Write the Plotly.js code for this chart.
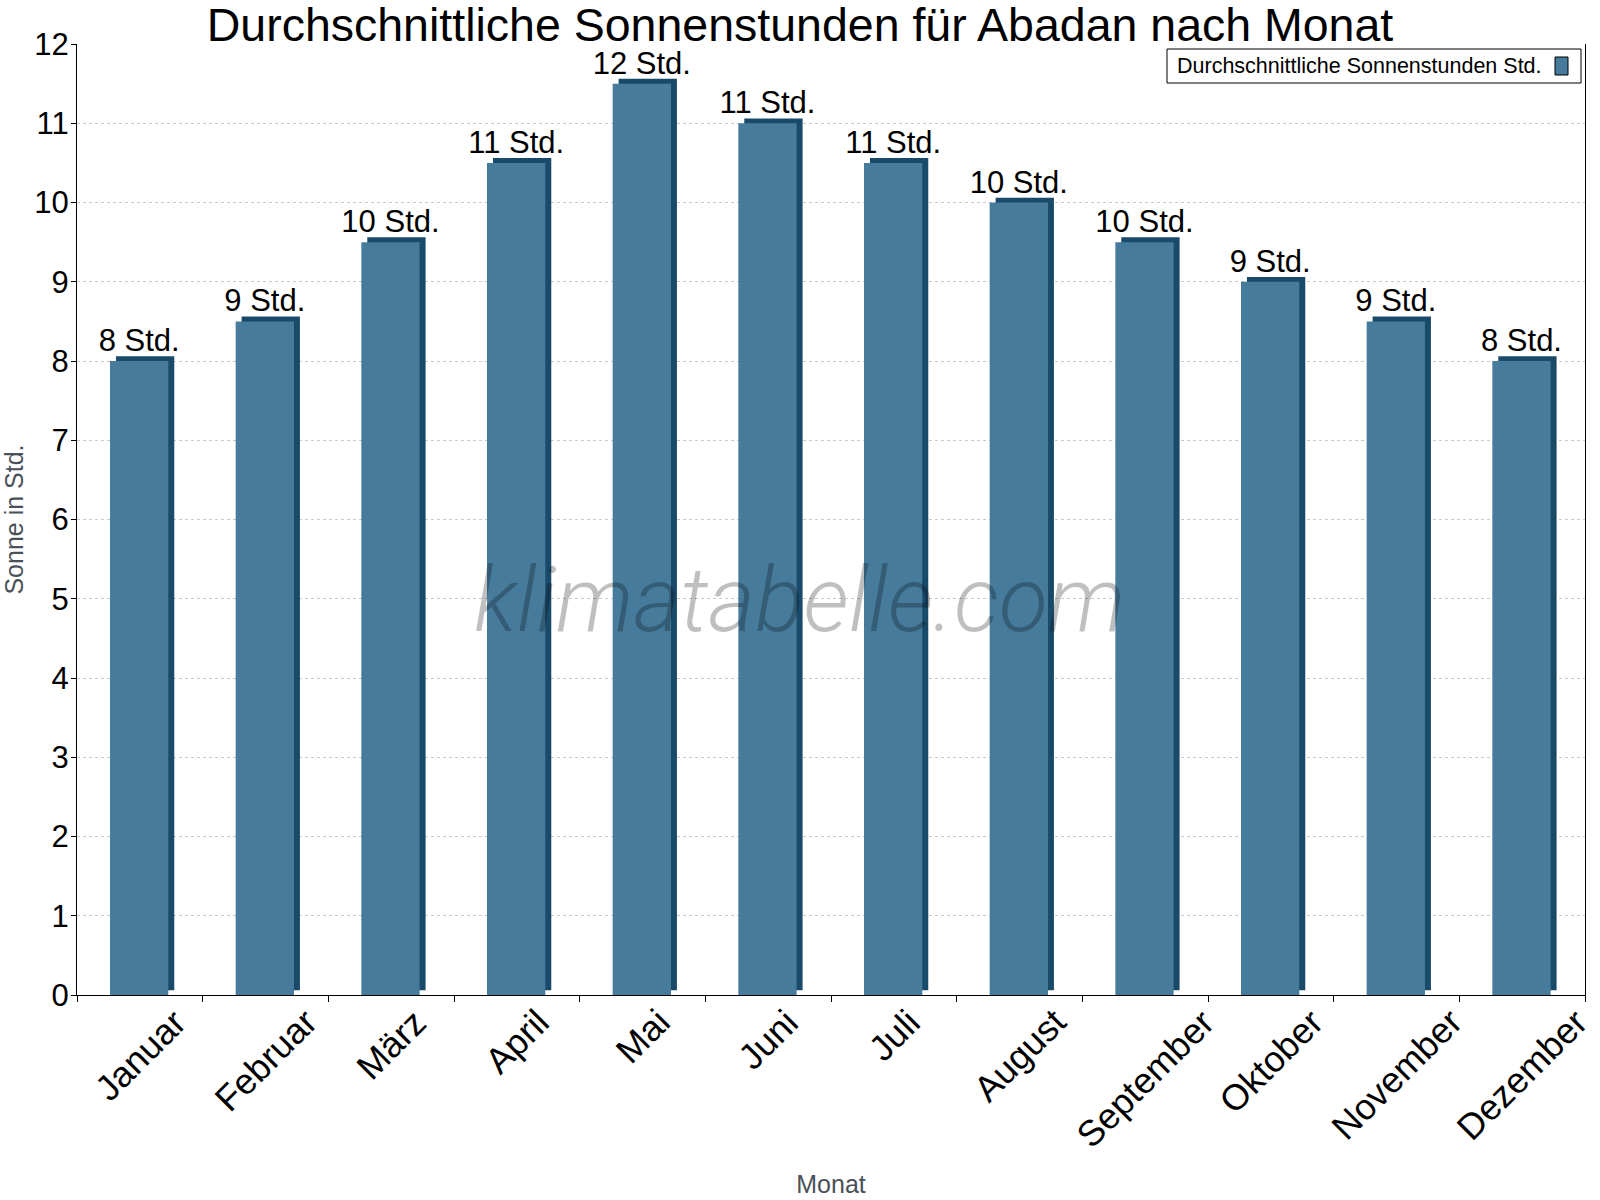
<!DOCTYPE html>
<html>
<head>
<meta charset="utf-8">
<script src="https://cdn.plot.ly/plotly-3.0.1.min.js"></script>
<style>html,body{margin:0;padding:0;background:#fff;}#chart{width:1600px;height:1200px;}</style>
</head>
<body>
<div id="chart"></div>
<script>
// ---- data ----
var months = ["Januar","Februar","März","April","Mai","Juni","Juli","August","September","Oktober","November","Dezember"];
var sunHours = [8, 8.5, 9.5, 10.5, 11.5, 11, 10.5, 10, 9.5, 9, 8.5, 8];
var barLabels = ["8 Std.","9 Std.","10 Std.","11 Std.","12 Std.","11 Std.","11 Std.","10 Std.","10 Std.","9 Std.","9 Std.","8 Std."];
var seriesName = "Durchschnittliche Sonnenstunden Std.";
var chartTitle = "Durchschnittliche Sonnenstunden für Abadan nach Monat";
var xTitle = "Monat";
var yTitle = "Sonne in Std.";
var watermark = "klimatabelle.com";

// ---- styles ----
var FONT = "Liberation Sans, Arial, sans-serif";
var FRONT = "#467b9c";
var DARK = "#1a4a6a";
var DEPTH = 0.06;

var shadow = {
  type: "bar", x: months, y: sunHours, base: DEPTH,
  offset: -0.19, width: 0.464,
  marker: {color: DARK, line: {width: 0}},
  hoverinfo: "skip", showlegend: false
};
var front = {
  type: "bar", x: months, y: sunHours, name: seriesName,
  offset: -0.2374, width: 0.464,
  marker: {color: FRONT, line: {width: 0}},
  text: barLabels, textposition: "outside", cliponaxis: false, constraintext: "none",
  textfont: {family: FONT, size: 31, color: "#000"},
  showlegend: false
};

var annotations = months.map(function(m){
  return {x: m, xref: "x", y: -0.004, yref: "paper", text: m, showarrow: false,
    textangle: -45, xanchor: "center", yanchor: "top",
    font: {family: FONT, size: 36, color: "#000"}};
});
annotations.push({x: 0.4788, xref: "paper", y: 0.415, yref: "paper", text: watermark, showarrow: false,
  font: {family: "Roboto, sans-serif", size: 90, color: "rgba(0,0,0,0.25)", style: "italic", weight: 300}});
// legend text
annotations.push({x: (1175-77)/1508, xref: "paper", y: (995-66)/951, yref: "paper", text: seriesName,
  showarrow: false, xanchor: "left", yanchor: "middle", font: {family: FONT, size: 21.5, color: "#000"}});

var shapes = [
  {type: "rect", xref: "paper", yref: "paper", x0: (1167-77)/1508, x1: (1581-77)/1508,
   y0: (995-83)/951, y1: (995-49)/951, line: {color: "#000", width: 1}, fillcolor: "#fff", layer: "above"},
  {type: "rect", xref: "paper", yref: "paper", x0: (1555-77)/1508, x1: (1568-77)/1508,
   y0: (995-75)/951, y1: (995-57)/951, line: {color: "#000", width: 1}, fillcolor: FRONT, layer: "above"}
];

var layout = {
  width: 1600, height: 1200,
  margin: {l: 77, r: 15, t: 44, b: 205},
  paper_bgcolor: "#fff", plot_bgcolor: "#fff",
  barmode: "overlay",
  showlegend: false,
  title: {text: chartTitle, x: 0.5, xanchor: "center", y: 0.9795, yanchor: "middle",
    font: {family: FONT, size: 46.5, color: "#000"}},
  xaxis: {
    type: "category", range: [-0.5, 11.5], showticklabels: false, tickson: "boundaries",
    ticks: "outside", ticklen: 6, tickcolor: "#000",
    showline: true, linecolor: "#000", linewidth: 1, showgrid: false, zeroline: false,
    title: {text: xTitle, standoff: 180, font: {family: FONT, size: 25, color: "#4a5058"}}
  },
  yaxis: {
    range: [0, 12], dtick: 1, ticks: "outside", ticklen: 5, tickcolor: "#000",
    tickfont: {family: FONT, size: 31, color: "#000"}, ticklabelstandoff: -4,
    showline: true, linecolor: "#000", linewidth: 1, mirror: true,
    showgrid: true, gridcolor: "#c8c8c8", griddash: "dot", gridwidth: 1, zeroline: false,
    title: {text: yTitle, standoff: 6, font: {family: FONT, size: 25, color: "#4a5058"}}
  },
  annotations: annotations,
  shapes: shapes
};

Plotly.newPlot("chart", [shadow, front], layout, {staticPlot: true});
</script>
</body>
</html>
